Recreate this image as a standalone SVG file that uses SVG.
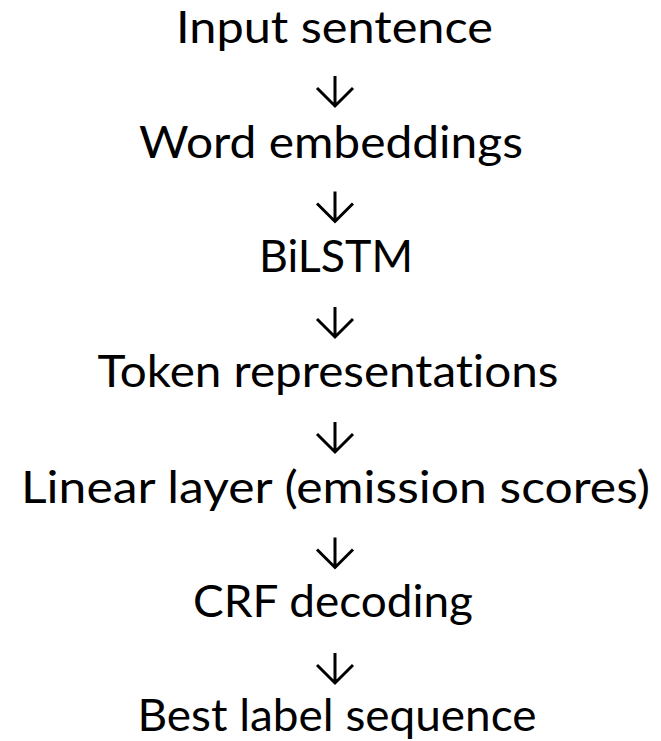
<svg xmlns="http://www.w3.org/2000/svg" width="661" height="741" viewBox="0 0 661 741">
  <defs>
    <style>
      .label { font-family: Lato, "Liberation Sans", sans-serif; font-size: 45px; fill: #000; text-anchor: middle; font-variant-ligatures: none; }
      .arrow { fill: none; stroke: #000; stroke-width: 3; stroke-linecap: butt; stroke-linejoin: miter; }
    </style>
    <path id="down" d="M0,-30 V0 M-18,-18 L0,0 L18,-18"/>
  </defs>
  <rect width="661" height="741" fill="#fff"/>

  <g id="input-sentence"><text class="label" x="334.5" y="43" textLength="317" lengthAdjust="spacingAndGlyphs">Input sentence</text></g>
  <g id="word-embeddings"><text class="label" x="331" y="158" textLength="384" lengthAdjust="spacingAndGlyphs">Word embeddings</text></g>
  <g id="bilstm"><text class="label" x="336" y="272" textLength="154" lengthAdjust="spacingAndGlyphs">BiLSTM</text></g>
  <g id="token-representations"><text class="label" x="328" y="387" textLength="461" lengthAdjust="spacingAndGlyphs">Token representations</text></g>
  <g id="linear-layer"><text class="label" x="335.5" y="503" textLength="629" lengthAdjust="spacingAndGlyphs">Linear layer (emission scores)</text></g>
  <g id="crf-decoding"><text class="label" x="333" y="617" textLength="280" lengthAdjust="spacingAndGlyphs">CRF decoding</text></g>
  <g id="best-label-sequence"><text class="label" x="337" y="731" textLength="399" lengthAdjust="spacingAndGlyphs">Best label sequence</text></g>

  <g id="connectors" class="arrow">
    <use href="#down" x="335" y="106"/>
    <use href="#down" x="335" y="221.5"/>
    <use href="#down" x="335" y="337"/>
    <use href="#down" x="335" y="452"/>
    <use href="#down" x="335" y="567.5"/>
    <use href="#down" x="335" y="683"/>
  </g>
</svg>
